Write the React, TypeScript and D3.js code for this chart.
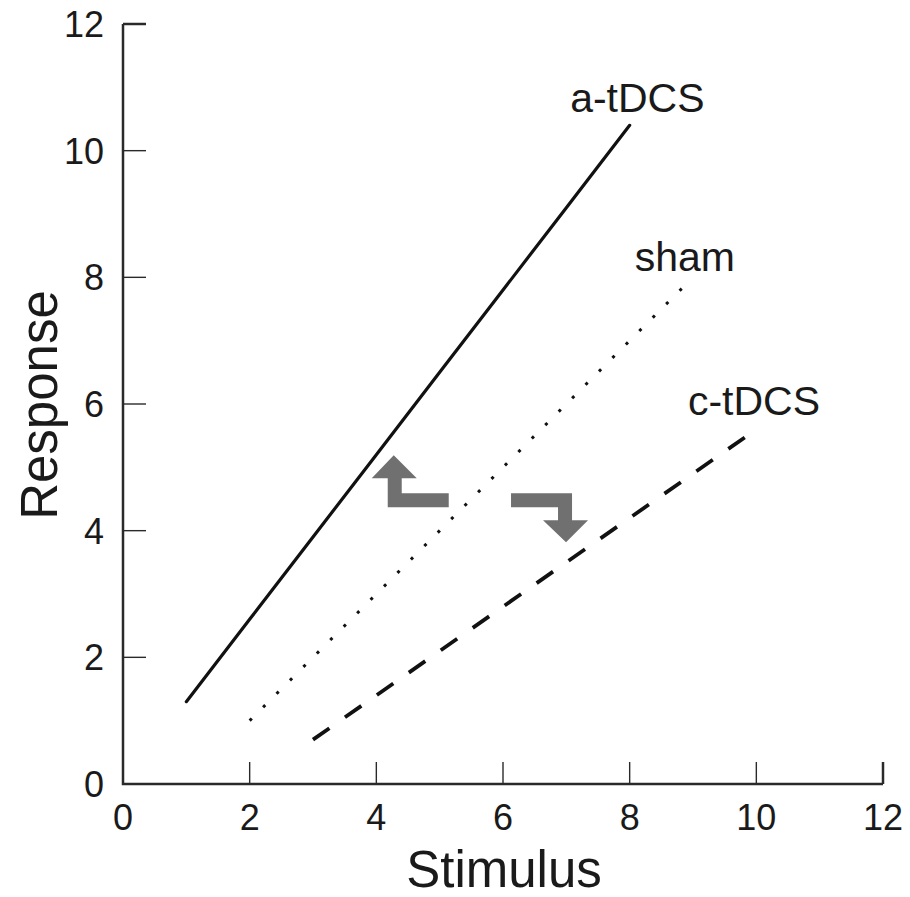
import React from "react";
import * as d3 from "d3";

const W = 910;
const H = 897;

const xTicks = [0, 2, 4, 6, 8, 10, 12];
const yTicks = [0, 2, 4, 6, 8, 10, 12];

const aStim = [1, 2, 3, 4, 5, 6, 7, 8];
const aResp = [1.3, 2.6, 3.9, 5.2, 6.5, 7.8, 9.1, 10.4];

const shamStim = [2, 3, 4, 5, 6, 7, 8, 8.9];
const shamResp = [1.0, 2.0, 3.0, 4.0, 5.0, 6.0, 7.0, 7.9];

const cStim = [3, 4, 5, 6, 7, 8, 9, 10];
const cResp = [0.7, 1.4, 2.1, 2.8, 3.5, 4.2, 4.9, 5.6];

const seriesNames = ["a-tDCS", "sham", "c-tDCS"];
const labelX = [7.06, 8.08, 8.92];
const labelY = [10.61, 8.1, 5.83];

export default function App() {
  const x = d3.scaleLinear().domain([0, 12]).range([123, 883]);
  const y = d3.scaleLinear().domain([0, 12]).range([784, 24]);
  const line = d3
    .line<[number, number]>()
    .x((d) => x(d[0]))
    .y((d) => y(d[1]));
  const zip = (a: number[], b: number[]) => a.map((v, i) => [v, b[i]] as [number, number]);

  const series = [
    { pts: zip(aStim, aResp), dash: undefined, w: 3.2, cap: "round" },
    { pts: zip(shamStim, shamResp), dash: "3 16", w: 3, cap: "butt" },
    { pts: zip(cStim, cResp), dash: "20 19", w: 3.8, cap: "butt" },
  ];

  // arrow anchors (data coords)
  const a1x = x(4.18);
  const a1y = y(4.37);
  const a2x = x(7.09);
  const a2y = y(4.59);
  const arrow1 = `M${a1x},${a1y} L${a1x + 61},${a1y} L${a1x + 61},${a1y - 14} L${a1x + 14},${a1y - 14} L${a1x + 14},${a1y - 29} L${a1x + 29},${a1y - 29} L${a1x + 6},${a1y - 52} L${a1x - 16},${a1y - 29} L${a1x},${a1y - 29} Z`;
  const arrow2 = `M${a2x},${a2y} L${a2x - 61},${a2y} L${a2x - 61},${a2y + 14} L${a2x - 14},${a2y + 14} L${a2x - 14},${a2y + 27} L${a2x - 29},${a2y + 27} L${a2x - 6},${a2y + 49} L${a2x + 16},${a2y + 27} L${a2x},${a2y + 27} Z`;

  const font = "'Liberation Sans', Arial, sans-serif";
  return (
    <svg width={W} height={H} style={{ position: "absolute", left: 0, top: 0 }} fontFamily={font}>
      <rect width={W} height={H} fill="#fff" />
      {/* axes */}
      <path d={`M${x(0)},${y(12)} L${x(0)},${y(0)} L${x(12)},${y(0)}`} fill="none" stroke="#2a2a2a" strokeWidth={2.5} />
      {yTicks.map((t) => (
        <g key={"y" + t}>
          {t > 0 && <line x1={x(0)} x2={x(0) + 23} y1={y(t)} y2={y(t)} stroke="#2a2a2a" strokeWidth={t === 12 ? 2.5 : 1.4} />}
          <text x={104} y={y(t)} dy="0.36em" textAnchor="end" fontSize={36} fill="#1a1a1a">
            {t}
          </text>
        </g>
      ))}
      {xTicks.map((t) => (
        <g key={"x" + t}>
          {t > 0 && <line x1={x(t)} x2={x(t)} y1={y(0)} y2={y(0) - 22} stroke="#2a2a2a" strokeWidth={t === 12 ? 2.5 : 1.4} />}
          <text x={x(t)} y={830} textAnchor="middle" fontSize={36} fill="#1a1a1a">
            {t}
          </text>
        </g>
      ))}
      <text x={504} y={887} textAnchor="middle" fontSize={51} fill="#1a1a1a">
        Stimulus
      </text>
      <text transform={`translate(57,405) rotate(-90)`} textAnchor="middle" fontSize={51} fill="#1a1a1a">
        Response
      </text>
      {/* lines */}
      {series.map((s, i) => (
        <path
          key={i}
          d={line(s.pts) || ""}
          fill="none"
          stroke="#111"
          strokeWidth={s.w}
          strokeDasharray={s.dash}
          strokeLinecap={s.cap as any}
        />
      ))}
      {seriesNames.map((n, i) => (
        <text key={n} x={x(labelX[i])} y={y(labelY[i])} fontSize={41} fill="#1a1a1a">
          {n}
        </text>
      ))}
      <path d={arrow1} fill="#707070" />
      <path d={arrow2} fill="#707070" />
    </svg>
  );
}
